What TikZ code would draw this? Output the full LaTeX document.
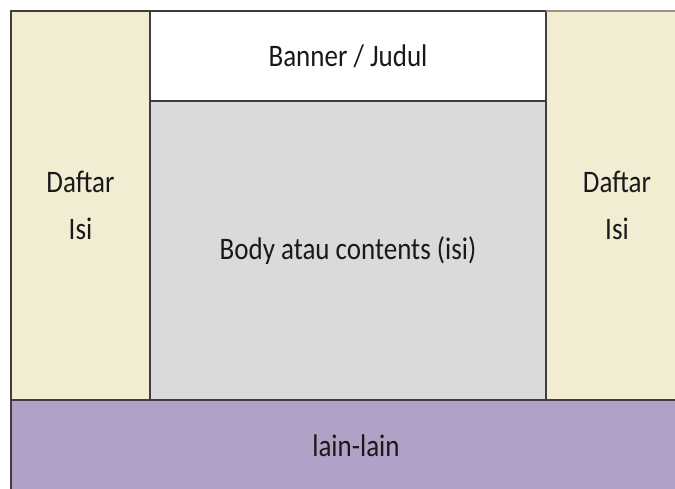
\documentclass[tikz,border=0pt]{standalone}
\usepackage{fontspec}
\setmainfont{Carlito}
\usepackage{xcolor}
\usepackage{tikz}

\definecolor{krem}{RGB}{242,236,211}
\definecolor{abu}{RGB}{218,218,218}
\definecolor{ungu}{RGB}{177,161,199}
\definecolor{garis}{RGB}{62,62,62}
\definecolor{garisatas}{RGB}{150,148,128}

\newcommand\teks[1]{\scalebox{1}[1.16]{#1}}

\tikzset{
  kotak/.style={rectangle,draw=garis,line width=1.6pt,inner sep=0pt,outer sep=0pt,
    anchor=north west,align=center,text=black!90,font=\fontsize{27}{47}\selectfont},
}

\begin{document}
\begin{tikzpicture}[x=1pt,y=-1pt]
\useasboundingbox (0,0) rectangle (675,489);
%\draw[help lines,step=50] (0,0) grid (675,489);
\path
(11,11) node(kiri) [kotak,fill=krem,minimum width=139pt,minimum height=389pt] {\teks{Daftar}\\\teks{Isi}}
(546,11) node(kanan) [kotak,fill=krem,minimum width=142pt,minimum height=389pt] {\teks{Daftar}\\\teks{Isi}}
(150,11) node(banner) [kotak,fill=white,minimum width=396pt,minimum height=90pt] {\teks{Banner / Judul}}
(150,101) node(isi) [kotak,fill=abu,minimum width=396pt,minimum height=299pt] {\teks{Body atau contents (isi)}}
(11,400) node(bawah) [kotak,fill=ungu,minimum width=690pt,minimum height=92pt] {\teks{lain-lain}};
\draw[garisatas,line width=1.6pt] (kanan.north west) -- (kanan.north east);
\end{tikzpicture}
\end{document}
